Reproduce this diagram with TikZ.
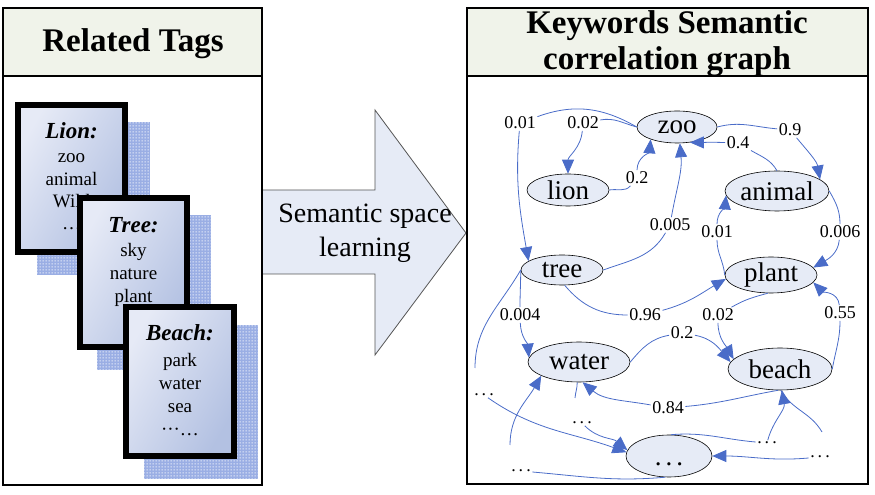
\documentclass[tikz,border=0pt]{standalone}
\usepackage{fontspec}
\setmainfont{Liberation Serif}
\usetikzlibrary{shapes.geometric,arrows.meta,patterns}
\pgfdeclarepatternformonly{shdots}{\pgfpointorigin}{\pgfpoint{2.6pt}{2.6pt}}{\pgfpoint{2.6pt}{2.6pt}}{\pgfpathrectangle{\pgfpoint{0.6pt}{0.6pt}}{\pgfpoint{1.3pt}{1.3pt}}\pgfusepath{fill}}
\definecolor{hdr}{HTML}{F0F3EA}
\definecolor{nodefill}{HTML}{E6EBF6}
\definecolor{edgeblue}{HTML}{4A6CC8}
\definecolor{cardlight}{HTML}{E6EAF6}
\definecolor{carddark}{HTML}{B3C1E2}
\definecolor{shadowblue}{HTML}{9AAEE4}
\definecolor{arrowgray}{HTML}{555555}
\begin{document}
\begin{tikzpicture}[x=1pt,y=1pt,
 panel/.style={draw=black,line width=1.2pt},
 ttl/.style={font=\fontsize{33}{38}\selectfont\bfseries,anchor=base,inner sep=0pt},
 card/.style={draw=black,line width=6pt,left color=cardlight,right color=carddark,shading angle=60},
 shadowbase/.style={fill=shadowblue},
 shadowdots/.style={pattern=shdots,pattern color=white},
 cardhead/.style={font=\fontsize{23}{26}\selectfont\bfseries\itshape,anchor=base,inner sep=0pt},
 cardtxt/.style={font=\fontsize{19}{22}\selectfont,anchor=base,inner sep=0pt},
 bigarrow/.style={fill=nodefill,draw=arrowgray,line width=0.8pt},
 midtxt/.style={font=\fontsize{28}{32}\selectfont,anchor=base,inner sep=0pt},
 kw/.style={ellipse,draw=black,line width=0.6pt,fill=nodefill,inner sep=0pt,font=\fontsize{27}{30}\selectfont},
 lbl/.style={font=\fontsize{18}{20}\selectfont,inner sep=1.5pt},
 dotlbl/.style={font=\fontsize{18}{20}\selectfont,inner sep=1.5pt},
 edge/.style={draw=edgeblue,line width=0.8pt},
 arr/.style={edge,-{Triangle[length=14pt,width=12pt]}},
]
\useasboundingbox (0,0) rectangle (875,495);

% ---------- big arrow ----------
\filldraw[bigarrow] (262,305) -- (375,305) -- (375,385) -- (466,262) -- (375,140) -- (375,221) -- (262,221) -- cycle;
\node[midtxt] (mid1) at (365,272) {Semantic space};
\node[midtxt] (mid2) at (365,238) {learning};

% ---------- left panel ----------
\fill[hdr] (3,419) rectangle (262,487);
\draw[panel] (3,10) rectangle (262,487);
\draw[panel] (3,419) -- (262,419);
\node[ttl] (reltags) at (133,443) {Related Tags};

% Lion card
\fill[shadowbase] (37,373) rectangle (150,220);
\fill[shadowdots] (37,373) rectangle (150,220);
\draw[card] (18,390) rectangle (125,243);
\node[cardhead] (lionH) at (71.5,356) {Lion:};
\node[cardtxt] (lion1) at (71.5,332) {zoo};
\node[cardtxt] (lion2) at (71.5,309) {animal};
\node[cardtxt] (lion3) at (71.5,287) {Wild};
\node[cardtxt] (lion4) at (71.5,265) {…};

% Tree card
\fill[shadowbase] (97,280) rectangle (211,125);
\fill[shadowdots] (97,280) rectangle (211,125);
\draw[card] (80,297) rectangle (187,148);
\node[cardhead] (treeH) at (133.5,262) {Tree:};
\node[cardtxt] (tree1) at (133.5,238) {sky};
\node[cardtxt] (tree2) at (133.5,215) {nature};
\node[cardtxt] (tree3) at (133.5,192) {plant};
\node[cardtxt] (tree4) at (133.5,169) {…};

% Beach card
\fill[shadowbase] (144,170) rectangle (258,16);
\fill[shadowdots] (144,170) rectangle (258,16);
\draw[card] (126,188) rectangle (234,39);
\node[cardhead] (beachH) at (180,154) {Beach:};
\node[cardtxt] (beach1) at (180,128) {park};
\node[cardtxt] (beach2) at (180,105) {water};
\node[cardtxt] (beach3) at (180,82) {sea};
\node[cardtxt] (beach4) at (180,59) {···…};

% ---------- right panel ----------
\fill[hdr] (467,419) rectangle (868,487);
\draw[panel] (467,11) rectangle (868,487);
\draw[panel] (467,419) -- (868,419);
\node[ttl] (kwA) at (667,461) {Keywords Semantic};
\node[ttl] (kwB) at (667,425) {correlation graph};

% nodes
\node[kw,minimum width=80pt,minimum height=32pt] (zoo) at (677,368) {zoo};
\node[kw,minimum width=82pt,minimum height=32pt] (lion) at (568,305) {lion};
\node[kw,minimum width=102pt,minimum height=40pt] (animal) at (777,304) {animal};
\node[kw,minimum width=82pt,minimum height=30pt] (tree) at (562,225) {tree};
\node[kw,minimum width=92pt,minimum height=36pt] (plant) at (771,220) {plant};
\node[kw,minimum width=102pt,minimum height=40pt] (water) at (579,133) {water};
\node[kw,minimum width=104pt,minimum height=42pt] (beach) at (780,126) {beach};
\node[kw,minimum width=86pt,minimum height=42pt] (etc) at (669,39) {\vphantom{b}.\hspace{4pt}.\hspace{4pt}.};

% edge labels
\node[lbl] (l1) at (520,372) {0.01};
\node[lbl] (l2) at (583,372) {0.02};
\node[lbl] (l3) at (637,317) {0.2};
\node[lbl] (l4) at (670,270) {0.005};
\node[lbl] (l5) at (790,365) {0.9};
\node[lbl] (l6) at (738,352) {0.4};
\node[lbl] (l7) at (717,263) {0.01};
\node[lbl] (l8) at (840,263) {0.006};
\node[lbl] (l9) at (645,180) {0.96};
\node[lbl] (l10) at (520,180) {0.004};
\node[lbl] (l11) at (682,162) {0.2};
\node[lbl] (l12) at (718,180) {0.02};
\node[lbl] (l13) at (840,182) {0.55};
\node[lbl] (l14) at (668,87) {0.84};

% dots labels
\node[dotlbl] (dA) at (484,100) {.\hspace{3pt}.\hspace{3pt}.};
\node[dotlbl] (dB) at (582,72) {.\hspace{3pt}.\hspace{3pt}.};
\node[dotlbl] (dC) at (521,24) {.\hspace{3pt}.\hspace{3pt}.};
\node[dotlbl] (dD) at (767,52) {.\hspace{3pt}.\hspace{3pt}.};
\node[dotlbl] (dE) at (820,38) {.\hspace{3pt}.\hspace{3pt}.};
\coordinate (fA) at (475,127);
\coordinate (fB) at (510,50);
\coordinate (fC) at (575,97);
\coordinate (fD) at (822,63);

% edges
\draw[edge] (zoo.west) to[out=150,in=20] (l1);
\draw[arr] (l1) to[out=-95,in=100] (tree.165);
\draw[edge] (zoo.west) to[out=165,in=10] (l2);
\draw[arr] (l2) to[out=-95,in=90] (lion.north);
\draw[edge] (lion.east) to[out=10,in=230] (l3);
\draw[arr] (l3) to[out=90,in=-95] (zoo.205);
\draw[edge] (tree.east) to[out=20,in=-120] (l4);
\draw[arr] (l4) to[out=80,in=-85] (zoo.280);
\draw[edge] (zoo.east) to[out=15,in=175] (l5);
\draw[arr] (l5) to[out=-50,in=100] (animal.15);
\draw[edge] (animal.north) to[out=120,in=-30] (l6);
\draw[arr] (l6) to[out=178,in=0] (zoo.-50);
\draw[edge] (animal.east) to[out=-60,in=90] (l8);
\draw[arr] (l8) to[out=-95,in=30] (plant.10);
\draw[edge] (plant.west) to[out=95,in=-90] (l7);
\draw[arr] (l7) to[out=90,in=-95] (animal.185);
\draw[edge] (tree.-80) to[out=-50,in=180] (l9);
\draw[arr] (l9) to[out=15,in=210] (plant.185);
\draw[edge] (tree.west) to[out=-90,in=90] (l10);
\draw[arr] (l10) to[out=-88,in=95] (water.175);
\draw[edge] (water.east) to[out=50,in=190] (l11);
\draw[arr] (l11) to[out=-10,in=130] (beach.172);
\draw[edge] (plant.-100) to[out=195,in=30] (l12);
\draw[arr] (l12) to[out=-90,in=120] (beach.168);
\draw[edge] (beach.east) to[out=80,in=-90] (l13);
\draw[arr] (l13) to[out=95,in=-45] (plant.-10);
\draw[edge] (beach.-95) to[out=190,in=5] (l14);
\draw[arr] (l14) to[out=170,in=-40] (water.-80);
\draw[edge] (tree.west) to[out=240,in=90] (fA);
\draw[arr] (dA) to[out=-35,in=160] (etc.175);
\draw[arr] (fB) to[out=90,in=-120] (water.200);
\draw[edge] (fC) to[out=85,in=-90] (water.-95);
\draw[arr] (dB) to[out=-45,in=140] (etc.172);
\draw[edge] (dC) to[out=-5,in=185] (etc.-100);
\draw[edge] (etc.85) to[out=5,in=175] (dD);
\draw[arr] (dD) to[out=75,in=-80] (beach.-85);
\draw[edge] (fD) to[out=120,in=-60] (beach.-88);
\draw[arr] (dE) to[out=185,in=0] (etc.east);
\end{tikzpicture}
\end{document}
